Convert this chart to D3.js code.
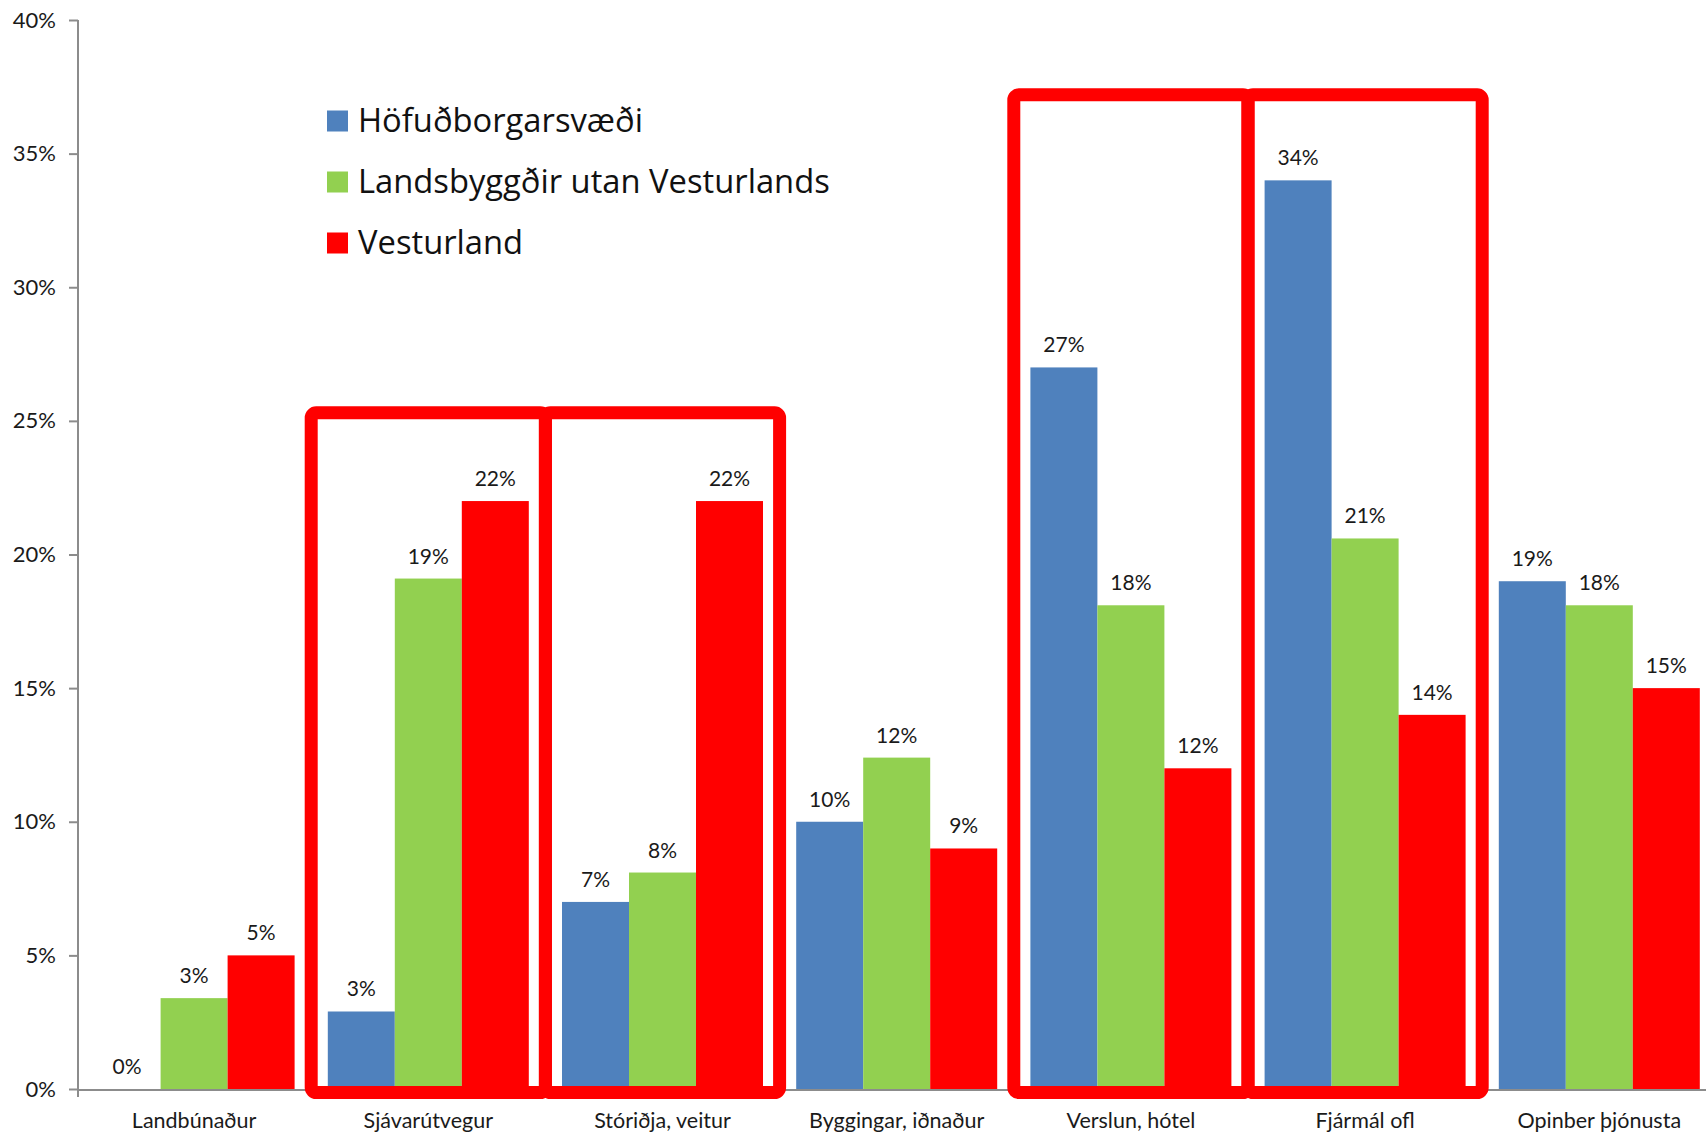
<!DOCTYPE html>
<html lang="is">
<head>
    <meta charset="UTF-8">
    <title>Atvinnugreinar</title>
    <script src="https://d3js.org/d3.v7.min.js"></script>
    <style>
        body { margin: 0; background: #fff; }
        svg { display: block; }
    </style>
</head>
<body>
<script>

    // gögn
    var categories = ['Landbúnaður', 'Sjávarútvegur', 'Stóriðja, veitur', 'Byggingar, iðnaður', 'Verslun, hótel', 'Fjármál ofl', 'Opinber þjónusta'];
    var seriesNames = ['Höfuðborgarsvæði', 'Landsbyggðir utan Vesturlands', 'Vesturland'];
    var hofudborg = [0, 2.9, 7.0, 10.0, 27.0, 34.0, 19.0];
    var landsbyggd = [3.4, 19.1, 8.1, 12.4, 18.1, 20.6, 18.1];
    var vesturland = [5.0, 22.0, 22.0, 9.0, 12.0, 14.0, 15.0];
    var yTicks = [0, 5, 10, 15, 20, 25, 30, 35, 40];

    // rauðu rammarnir
    var boxGroups = [['Sjávarútvegur', 'Stóriðja, veitur'], ['Verslun, hótel', 'Fjármál ofl']];
    var boxTops = [25.3, 37.2];

    var colors = ['#4F81BD', '#92D050', '#FF0000'];
    var values = [hofudborg, landsbyggd, vesturland];

    var width = 1706, height = 1134;
    var step = 234.2;
    var left = 77, baseY = 1089, topY = 20;
    var font = 'Lato, sans-serif';

    var svg = d3.select('body')
        .append('svg')
        .attr('width', width)
        .attr('height', height);

    var x0 = d3.scaleBand()
        .domain(categories)
        .range([left, left + step * categories.length]);

    var x1 = d3.scaleBand()
        .domain(seriesNames)
        .range([16.6, step - 16.6]);

    var y = d3.scaleLinear()
        .domain([0, 40])
        .range([baseY, topY]);

    var fmt = function(v) { return Math.round(v) + '%'; };

    // y ás
    var yAxis = svg.append('g')
        .attr('transform', 'translate(' + (left + 1) + ',0)')
        .call(d3.axisLeft(y).tickValues(yTicks).tickSize(9).tickPadding(13).tickFormat(function(d) { return d + '%'; }));
    yAxis.select('.domain').attr('stroke', '#8c8c8c').attr('stroke-width', 2)
        .attr('d', 'M0,' + topY + 'V' + (baseY + 8));
    yAxis.selectAll('.tick line').attr('stroke', '#8c8c8c').attr('stroke-width', 2);
    yAxis.selectAll('.tick text')
        .attr('font-family', font)
        .attr('font-size', 22)
        .attr('fill', '#1a1a1a');

    // x ás lína
    svg.append('line')
        .attr('x1', left)
        .attr('x2', width)
        .attr('y1', baseY + 1)
        .attr('y2', baseY + 1)
        .attr('stroke', '#8c8c8c')
        .attr('stroke-width', 2);

    // súlur
    var groups = svg.selectAll('g.cat')
        .data(categories)
        .enter()
            .append('g')
            .attr('class', 'cat')
            .attr('transform', function(d) { return 'translate(' + x0(d) + ',0)'; });

    groups.selectAll('rect')
        .data(function(d, i) { return seriesNames.map(function(s, j) { return { s: s, v: values[j][i], c: colors[j] }; }); })
        .enter()
            .append('rect')
            .attr('x', function(d) { return x1(d.s); })
            .attr('y', function(d) { return y(d.v); })
            .attr('width', x1.bandwidth())
            .attr('height', function(d) { return baseY - y(d.v); })
            .attr('fill', function(d) { return d.c; });

    groups.selectAll('text.val')
        .data(function(d, i) { return seriesNames.map(function(s, j) { return { s: s, v: values[j][i] }; }); })
        .enter()
            .append('text')
            .attr('class', 'val')
            .attr('x', function(d) { return x1(d.s) + x1.bandwidth() / 2; })
            .attr('y', function(d) { return y(d.v) - 15; })
            .attr('text-anchor', 'middle')
            .attr('font-family', font)
            .attr('font-size', 21)
            .attr('fill', '#1a1a1a')
            .text(function(d) { return fmt(d.v); });

    // flokkaheiti
    svg.selectAll('text.cat')
        .data(categories)
        .enter()
            .append('text')
            .attr('class', 'cat')
            .attr('x', function(d) { return x0(d) + step / 2; })
            .attr('y', 1128)
            .attr('text-anchor', 'middle')
            .attr('font-family', font)
            .attr('font-size', 21.5)
            .attr('fill', '#1a1a1a')
            .text(function(d) { return d; });

    // rammar
    boxGroups.forEach(function(g, bi) {
        g.forEach(function(cat) {
            svg.append('rect')
                .attr('x', x0(cat))
                .attr('y', y(boxTops[bi]))
                .attr('width', step)
                .attr('height', baseY + 3.5 - y(boxTops[bi]))
                .attr('rx', 5)
                .attr('fill', 'none')
                .attr('stroke', '#FF0000')
                .attr('stroke-width', 13);
        });
    });

    // skýringar
    var legend = svg.append('g')
        .attr('transform', 'translate(327,121)');

    var items = legend.selectAll('g')
        .data(seriesNames)
        .enter()
            .append('g')
            .attr('transform', function(d, i) { return 'translate(0,' + (i * 61) + ')'; });

    items.append('rect')
        .attr('x', 0)
        .attr('y', -10.5)
        .attr('width', 21)
        .attr('height', 21)
        .attr('fill', function(d, i) { return colors[i]; });

    var legendText = items.append('text')
        .attr('x', 31)
        .attr('y', 11)
        .attr('font-family', 'Open Sans, sans-serif')
        .attr('font-size', 30)
        .attr('fill', '#111')
        .text(function(d) { return d; });

    // stilla leturstærð svo lengsta heitið verði um 472px
    var longest = legendText.filter(function(d, i) { return i === 1; }).node().getComputedTextLength();
    legendText.attr('font-size', 30 * 472 / longest);

</script>
</body>
</html>
